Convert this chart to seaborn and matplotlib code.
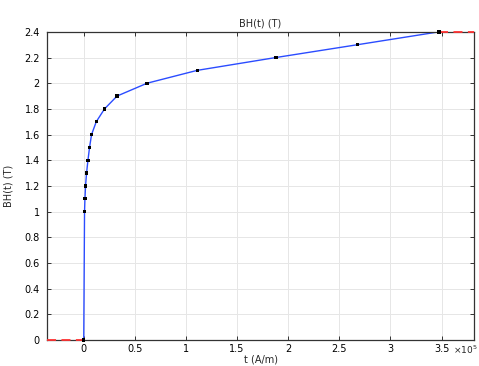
import numpy as np
import pandas as pd
import matplotlib
matplotlib.use('Agg')
import matplotlib.pyplot as plt
import seaborn as sns
from matplotlib.ticker import FuncFormatter, MultipleLocator

# B-H curve points
H = [0, 780, 1180, 1760, 2750, 4120, 5680, 7650, 12250, 20340,
     32600, 62000, 111000, 188000, 268000, 347500]
B = [0, 1.0, 1.1, 1.2, 1.3, 1.4, 1.5, 1.6, 1.7, 1.8,
     1.9, 2.0, 2.1, 2.2, 2.3, 2.4]
x_min, x_max = -36000, 382000

df = pd.DataFrame({'H': H, 'B': B})

sns.set_style('whitegrid')
plt.rcParams['font.family'] = ['DejaVu Sans']
plt.rcParams['font.size'] = 7
plt.rcParams['mathtext.default'] = 'regular'

fig = plt.figure(figsize=(4.79, 3.66), dpi=100)
ax = fig.add_axes([0.098, 0.071, 0.892, 0.842])

sns.lineplot(data=df, x='H', y='B', ax=ax, color='#2b4cff', lw=1.0, sort=False)
sns.scatterplot(data=df, x='H', y='B', ax=ax, color='black', marker='s', s=6,
                edgecolor='none', zorder=5, clip_on=False)

# extrapolation beyond the data range
ax.plot([x_min, H[0]], [B[0], B[0]], color='#ff3333', lw=1.3, ls=(0, (5, 3)),
        zorder=4, clip_on=False)
ax.plot([H[-1], x_max], [B[-1], B[-1]], color='#ff3333', lw=1.3, ls=(0, (5, 3)),
        zorder=4, clip_on=False)

ax.set_xlim(x_min, x_max)
ax.set_ylim(0, 2.4)
ax.xaxis.set_major_locator(MultipleLocator(50000))
ax.yaxis.set_major_locator(MultipleLocator(0.2))
ax.xaxis.set_major_formatter(FuncFormatter(lambda v, p: '%g' % round(v / 1e5, 2)))
ax.yaxis.set_major_formatter(FuncFormatter(lambda v, p: '%g' % round(v, 2)))

ax.grid(True, color='#e6e6e6', lw=0.7)
for s in ax.spines.values():
    s.set_color('#333333')
    s.set_linewidth(0.9)
    s.set_zorder(3)
ax.tick_params(direction='in', length=3, width=0.7, colors='#333333',
               labelcolor='black', labelsize=7, top=True, right=True,
               bottom=True, left=True)
ax.tick_params(axis='x', pad=3)
ax.tick_params(axis='y', pad=5)

ax.set_title('BH(t) (T)', fontsize=7, pad=4)
ax.set_xlabel('t (A/m)', fontsize=7, labelpad=0)
ax.set_ylabel('BH(t) (T)', fontsize=7, labelpad=8)
fig.text(0.945, 0.045, r'$\times10^{5}$', fontsize=6.5, ha='left', va='center')

fig.savefig('out.png', dpi=100)
